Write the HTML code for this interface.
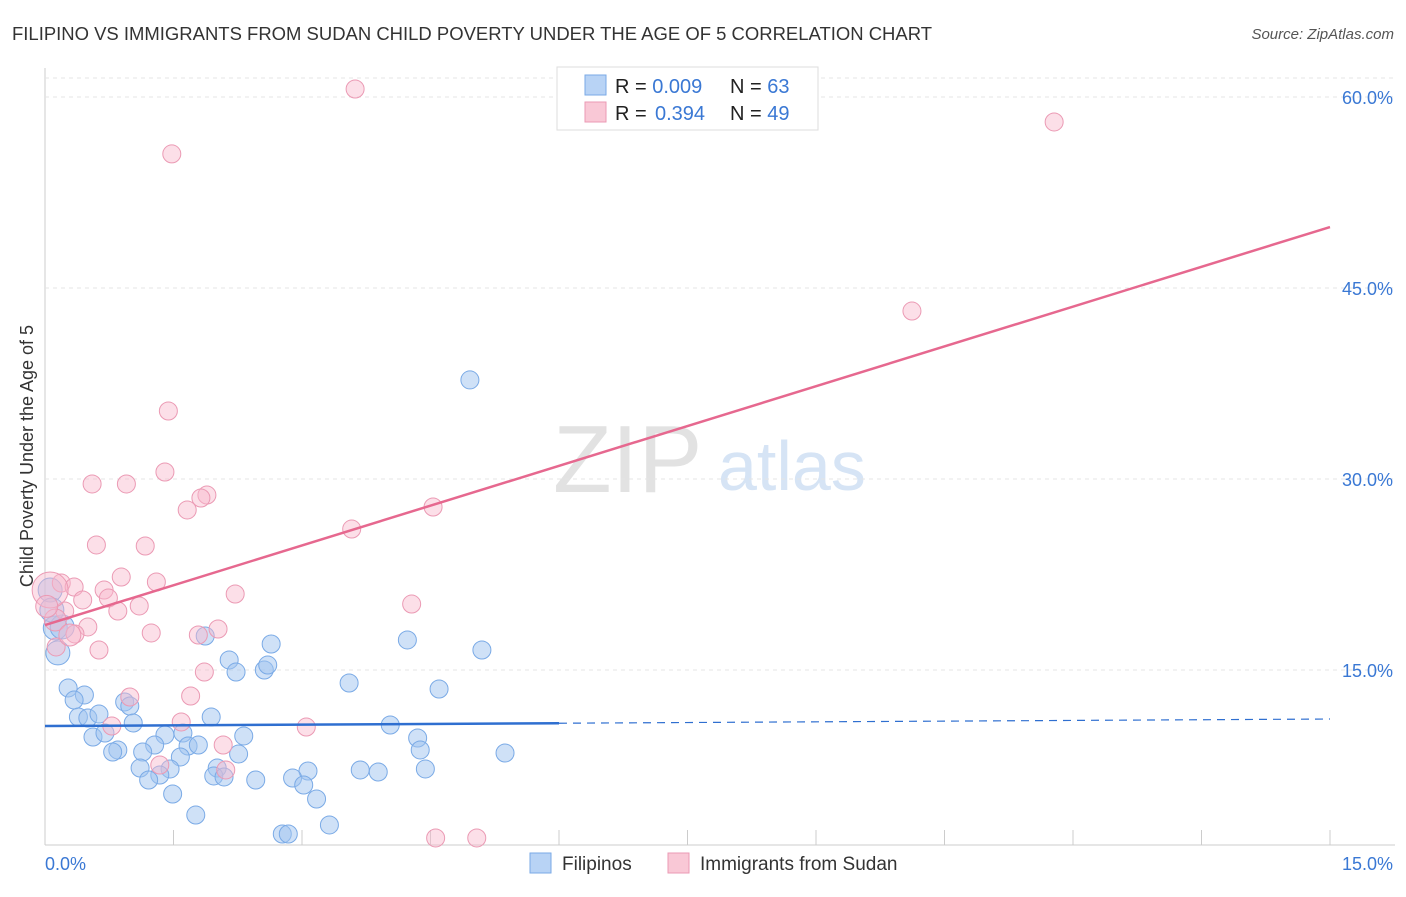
<!DOCTYPE html>
<html><head><meta charset="utf-8"><style>
body{margin:0;background:#fff;font-family:"Liberation Sans",sans-serif;}
svg text{font-family:"Liberation Sans",sans-serif;}
</style></head><body>
<svg id="chart" width="1406" height="892" xmlns="http://www.w3.org/2000/svg">
<text x="12" y="40" font-size="18" fill="#333" textLength="920" lengthAdjust="spacingAndGlyphs">FILIPINO VS IMMIGRANTS FROM SUDAN CHILD POVERTY UNDER THE AGE OF 5 CORRELATION CHART</text>
<text x="1394" y="39" font-size="15" fill="#555" font-style="italic" text-anchor="end">Source: ZipAtlas.com</text>
<g>
<text x="553" y="492" font-size="96" font-family="Liberation Serif" fill="#e2e2e2">ZIP</text>
<text x="718" y="490" font-size="70" fill="#d6e4f5">atlas</text>
</g>
<text transform="translate(33,456) rotate(-90)" font-size="18" fill="#333" text-anchor="middle">Child Poverty Under the Age of 5</text>
<g id="grid"></g><g id="pts"></g><g id="lines"></g>
<g>
<rect x="557" y="67" width="261" height="63" fill="#fff" stroke="#ddd"/>
<rect x="585" y="75" width="21" height="20" fill="#b8d3f5" stroke="#7aaae6"/>
<rect x="585" y="102" width="21" height="20" fill="#f9c8d6" stroke="#eb9ab4"/>
<text x="615" y="93" font-size="20" fill="#222">R = <tspan fill="#3a78d4">0.009</tspan><tspan x="730">N = </tspan><tspan fill="#3a78d4">63</tspan></text>
<text x="615" y="120" font-size="20" fill="#222">R = <tspan x="655" fill="#3a78d4">0.394</tspan><tspan x="730">N = </tspan><tspan fill="#3a78d4">49</tspan></text>
</g>
<g>
<rect x="530" y="853" width="21" height="20" fill="#b8d3f5" stroke="#7aaae6"/>
<text x="562" y="870" font-size="19" fill="#333">Filipinos</text>
<rect x="668" y="853" width="21" height="20" fill="#f9c8d6" stroke="#eb9ab4"/>
<text x="700" y="870" font-size="19" fill="#333">Immigrants from Sudan</text>
</g>
</svg>
<script>
const yTicks=[15,30,45,60];
const yTickLabels=["15.0%","30.0%","45.0%","60.0%"];
const xTicks=[0,1.5,3,4.5,6,7.5,9,10.5,12,13.5,15];
const xEndLabels=["0.0%","15.0%"];
const blueX=[4.96,4.23,5.10,4.60,2.64,2.15,2.23,2.56,2.60,1.87,3.55,0.27,0.46,0.34,0.93,0.99,0.39,0.50,0.63,1.03,1.94,4.03,0.56,0.70,1.40,1.61,1.67,1.79,2.32,1.28,0.85,0.79,4.35,4.38,5.37,2.26,1.14,1.58,1.11,1.46,2.01,1.34,3.07,3.68,3.89,4.44,1.21,1.97,2.09,2.46,2.89,3.02,1.49,3.17,1.76,3.32,2.77,2.84,0.15,0.12,0.20,0.06,0.08];
const blueY=[37.78,17.36,16.57,13.51,17.04,15.79,14.84,15.00,15.39,17.67,13.98,13.59,13.04,12.64,12.49,12.17,11.31,11.23,11.54,10.84,11.31,10.68,9.74,10.05,9.90,10.05,9.03,9.11,9.82,9.11,8.72,8.56,9.66,8.72,8.48,8.40,8.56,8.17,7.30,7.23,7.30,6.75,7.07,7.15,6.99,7.23,6.36,6.68,6.60,6.36,6.52,5.97,5.26,4.87,3.61,2.83,2.12,2.12,16.34,18.30,18.38,21.28,19.71];
const pinkX=[3.62,1.48,11.78,10.12,1.44,1.40,0.55,0.95,1.89,1.82,1.66,4.53,3.58,0.60,1.17,0.89,1.30,0.19,0.34,0.69,2.22,0.74,0.44,1.10,0.85,4.28,0.23,0.50,1.24,2.02,1.79,0.35,0.63,0.13,1.86,1.70,0.99,1.59,3.05,0.78,2.08,1.34,2.11,4.56,5.04,0.06,0.12,0.29,0.02];
const pinkY=[60.63,55.53,58.04,43.19,35.34,30.55,29.61,29.61,28.74,28.51,27.57,27.80,26.07,24.82,24.74,22.30,21.91,21.83,21.52,21.28,20.97,20.65,20.50,20.03,19.63,20.18,19.63,18.38,17.91,18.22,17.75,17.83,16.57,16.81,14.84,12.96,12.88,10.92,10.52,10.60,9.11,7.54,7.15,1.81,1.81,21.28,18.93,17.75,20.0];
const blueTrend=[10.60,11.15];
const pinkTrend=[18.53,49.79];
const X=v=>45+v/15*1285, Y=v=>861-v/15*191;
const NS="http://www.w3.org/2000/svg";
function mk(t,a,p){const e=document.createElementNS(NS,t);for(const k in a)e.setAttribute(k,a[k]);p.appendChild(e);return e;}
const grid=document.getElementById('grid');
mk('line',{x1:45,y1:68,x2:45,y2:845,stroke:'#ccc'},grid);
mk('line',{x1:45,y1:845,x2:1395,y2:845,stroke:'#ccc'},grid);
mk('line',{x1:45,y1:78,x2:1395,y2:78,stroke:'#e4e4e4','stroke-dasharray':'4,4'},grid);
yTicks.forEach((v,i)=>{
 const l=mk('line',{x1:45,y1:Y(v),x2:1395,y2:Y(v),stroke:'#e4e4e4','stroke-dasharray':'4,4'},grid);
 
 
 const t=mk('text',{x:1393,y:Y(v)+7,'font-size':18,fill:'#3a78d4','text-anchor':'end'},grid);
 t.textContent=yTickLabels[i];
 
 
});
xTicks.forEach(v=>{
 const l=mk('line',{x1:X(v),y1:830,x2:X(v),y2:845,stroke:'#ccc'},grid);
 
 
});
[[0,'start',45],[15,'end',1393]].forEach((a,i)=>{
 const t=mk('text',{x:a[2],y:870,'font-size':18,fill:'#3a78d4','text-anchor':a[1]},grid);
 t.textContent=xEndLabels[i];
 
 
});
const pts=document.getElementById('pts');
blueX.forEach((x,i)=>{
 const r=(i>=58)?12:9;
 const c=mk('circle',{cx:X(x),cy:Y(blueY[i]),r:r,fill:'rgba(160,195,240,0.5)',stroke:'#7aaae6','stroke-width':1},pts);
 
 
});
pinkX.forEach((x,i)=>{
 const r=(i>=45)?(i==45?18:11):9;
 const c=mk('circle',{cx:X(x),cy:Y(pinkY[i]),r:r,fill:'rgba(248,185,205,0.45)',stroke:'#eb9ab4','stroke-width':1},pts);
 
 
});
const ln=document.getElementById('lines');
const bAt=v=>blueTrend[0]+(blueTrend[1]-blueTrend[0])*v/15;
let l1=mk('line',{x1:X(0),y1:Y(bAt(0)),x2:X(6),y2:Y(bAt(6)),stroke:'#2f6fd0','stroke-width':2.5},ln);


let l2=mk('line',{x1:X(6),y1:Y(bAt(6)),x2:X(15),y2:Y(bAt(15)),stroke:'#2f6fd0','stroke-width':1.2,'stroke-dasharray':'8,6'},ln);


let l3=mk('line',{x1:X(0),y1:Y(pinkTrend[0]),x2:X(15),y2:Y(pinkTrend[1]),stroke:'#e6688f','stroke-width':2.5},ln);


</script>
</body></html>
